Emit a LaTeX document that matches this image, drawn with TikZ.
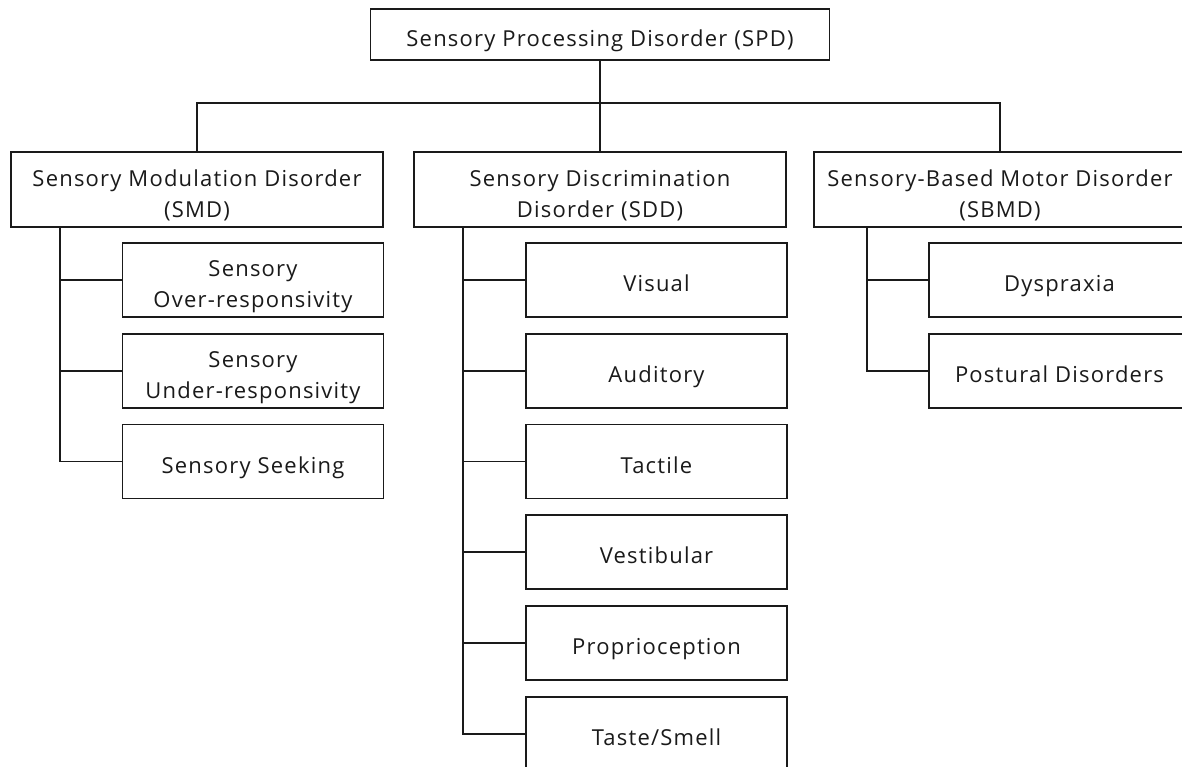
\documentclass[tikz,border=0pt]{standalone}
\usepackage{fontspec}
\setmainfont{Open Sans}[LetterSpace=5.5]
\definecolor{ink}{HTML}{1A1A1A}
\begin{document}
\begin{tikzpicture}[x=1pt,y=-1pt,
  box/.style={draw=ink, line width=1.3pt, fill=white, inner sep=0pt},
  txt/.style={inner sep=0pt, align=center, text=ink, font=\fontsize{22}{31}\selectfont},
  one/.style={txt, text height=16.5pt, text depth=0pt},
  topbox/.style={box, minimum width=459pt, minimum height=51pt},
  midbox/.style={box, minimum width=372pt, minimum height=75pt},
  leafbox/.style={box, minimum width=261pt, minimum height=74pt},
  link/.style={draw=ink, line width=1.3pt}]
\useasboundingbox (0,0) rectangle (1182,767);
% top
\node[topbox] (spd) at (600,34.5) {};
\node[one] (spdT) at ([yshift=-3.5pt]spd.center) {Sensory Processing Disorder (SPD)};
% middle level
\node[midbox] (smd)  at (197,189.5) {};
\node[midbox] (sdd)  at (600,189.5) {};
\node[midbox] (sbmd) at (1000,189.5) {};
\node[txt] (smdT)  at ([yshift=-6pt]smd.center)  {Sensory Modulation Disorder\\(SMD)};
\node[txt] (sddT)  at ([yshift=-6pt]sdd.center)  {Sensory Discrimination\\Disorder (SDD)};
\node[txt] (sbmdT) at ([yshift=-6pt]sbmd.center) {Sensory-Based Motor Disorder\\(SBMD)};
% bus
\coordinate (bus) at (0,103);
\draw[link] (spd.south) -- (sdd.north);
\draw[link] (smd.north) -- (smd.north |- bus) -- (sbmd.north |- bus) -- (sbmd.north);
% SMD leaves
\node[leafbox] (over)  at (253,280) {};
\node[leafbox] (under) at (253,371) {};
\node[leafbox] (seek)  at (253,461.5) {};
\node[txt] (overT)  at ([yshift=-7pt]over.center)  {Sensory\\Over-responsivity};
\node[txt] (underT) at ([yshift=-7pt]under.center) {Sensory\\Under-responsivity};
\node[one] (seekT)  at ([yshift=-3.5pt]seek.center) {Sensory Seeking};
% SDD leaves
\node[leafbox] (vis)  at (656.5,280) {};
\node[leafbox] (aud)  at (656.5,371) {};
\node[leafbox] (tac)  at (656.5,461.5) {};
\node[leafbox] (vest) at (656.5,552) {};
\node[leafbox] (prop) at (656.5,643) {};
\node[leafbox] (tast) at (656.5,734) {};
\node[one] (visT)  at ([yshift=-3.5pt]vis.center)  {Visual};
\node[one] (audT)  at ([yshift=-3.5pt]aud.center)  {Auditory};
\node[one] (tacT)  at ([yshift=-3.5pt]tac.center)  {Tactile};
\node[one] (vestT) at ([yshift=-3.5pt]vest.center) {Vestibular};
\node[one] (propT) at ([yshift=-3.5pt]prop.center) {Proprioception};
\node[one] (tastT) at ([yshift=-3.5pt]tast.center) {Taste/Smell};
% SBMD leaves
\node[leafbox] (dysp) at (1059.5,280) {};
\node[leafbox] (post) at (1059.5,371) {};
\node[one] (dyspT) at ([yshift=-3.5pt]dysp.center) {Dyspraxia};
\node[one] (postT) at ([yshift=-3.5pt]post.center) {Postural Disorders};
% trunks
\coordinate (ta) at (60,0);
\coordinate (tb) at (463,0);
\coordinate (tc) at (867,0);
\draw[link] (smd.south -| ta) |- (seek.west);
\draw[link] (over.west) -- (over.west -| ta);
\draw[link] (under.west) -- (under.west -| ta);
\draw[link] (sdd.south -| tb) |- (tast.west);
\foreach \n in {vis,aud,tac,vest,prop}
  \draw[link] (\n.west) -- (\n.west -| tb);
\draw[link] (sbmd.south -| tc) |- (post.west);
\draw[link] (dysp.west) -- (dysp.west -| tc);
\end{tikzpicture}
\end{document}
